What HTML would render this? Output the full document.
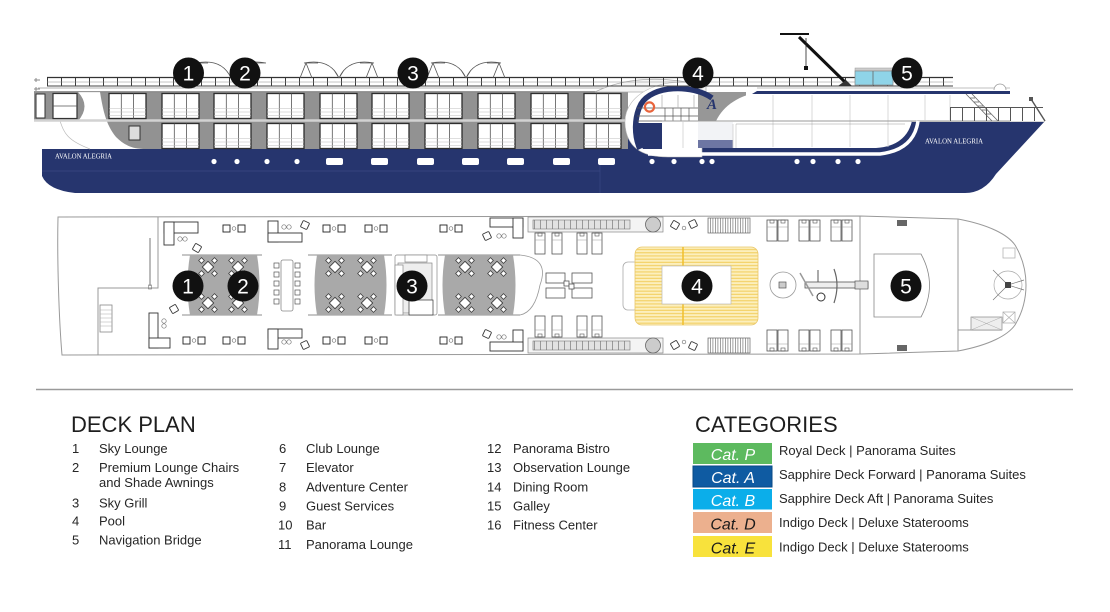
<!DOCTYPE html>
<html><head><meta charset="utf-8"><style>
html,body{margin:0;padding:0;background:#fff;}
svg{display:block;}
</style></head><body>
<svg width="1110" height="612" viewBox="0 0 1110 612" xmlns="http://www.w3.org/2000/svg" font-family="'Liberation Sans', sans-serif">
<defs>
<g id="bay">
<rect x="0" y="0" width="37" height="25" fill="#fff" stroke="#2e2e2e" stroke-width="1.3"/>
<line x1="12.3" y1="0" x2="12.3" y2="25" stroke="#555" stroke-width=".8"/>
<line x1="24.6" y1="0" x2="24.6" y2="25" stroke="#555" stroke-width=".8"/>
<g stroke="#bdbdbd" stroke-width=".6"><line x1="0" y1="15" x2="37" y2="15"/><line x1="0" y1="18.5" x2="37" y2="18.5"/><line x1="0" y1="22" x2="37" y2="22"/></g>
</g>
<pattern id="rail" x="47" y="77" width="14" height="10" patternUnits="userSpaceOnUse"><rect x="0" y="0" width="1" height="10" fill="#3a3a3a"/></pattern>
<pattern id="brail" x="950" y="107" width="12" height="14" patternUnits="userSpaceOnUse"><rect x="0" y="0" width="1" height="14" fill="#555"/></pattern>
<pattern id="poolp" x="0" y="247" width="4" height="3.2" patternUnits="userSpaceOnUse"><rect width="4" height="3.2" fill="#fcefbd"/><rect y="2" width="4" height="1.1" fill="#f3cf62"/></pattern>
<pattern id="vstr" x="0" y="0" width="2.5" height="4" patternUnits="userSpaceOnUse"><rect width="2.5" height="4" fill="#fff"/><rect width=".8" height="4" fill="#888"/></pattern>
<pattern id="dash" x="0" y="0" width="6" height="4" patternUnits="userSpaceOnUse"><rect width="6" height="4" fill="#e2e2e2"/><rect width="1" height="4" fill="#999"/></pattern>
<g id="tc">
<rect x="-4" y="-4" width="8" height="8" transform="rotate(45)" fill="#fff" stroke="#333" stroke-width=".8"/>
<rect x="-2" y="-2" width="4" height="4" transform="translate(-6.5,-6.5) rotate(45)" fill="#fff" stroke="#333" stroke-width=".7"/>
<rect x="-2" y="-2" width="4" height="4" transform="translate(6.5,-6.5) rotate(45)" fill="#fff" stroke="#333" stroke-width=".7"/>
<rect x="-2" y="-2" width="4" height="4" transform="translate(-6.5,6.5) rotate(45)" fill="#fff" stroke="#333" stroke-width=".7"/>
<rect x="-2" y="-2" width="4" height="4" transform="translate(6.5,6.5) rotate(45)" fill="#fff" stroke="#333" stroke-width=".7"/>
</g>
<g id="sos">
<rect x="0" y="0" width="7" height="7" fill="#fff" stroke="#222" stroke-width=".9"/>
<circle cx="11" cy="3.5" r="1.8" fill="none" stroke="#777" stroke-width=".7"/>
<rect x="15" y="0" width="7" height="7" fill="#fff" stroke="#222" stroke-width=".9"/>
</g>
<rect id="ch" x="-3.5" y="-3.5" width="7" height="7" rx="1" fill="#fff" stroke="#333" stroke-width=".9"/>
<g id="oo"><circle cx="0" cy="0" r="2.2" fill="none" stroke="#777" stroke-width=".7"/><circle cx="5" cy="0" r="2.2" fill="none" stroke="#777" stroke-width=".7"/></g>
<g id="lg"><rect x="0" y="0" width="10" height="21" fill="#fff" stroke="#555" stroke-width=".8"/><rect x="3" y="0" width="4" height="3" fill="none" stroke="#555" stroke-width=".6"/><line x1="0" y1="7" x2="10" y2="7" stroke="#999" stroke-width=".5"/></g>
<g id="lgb"><rect x="0" y="0" width="10" height="21" fill="#fff" stroke="#555" stroke-width=".8"/><rect x="3" y="18" width="4" height="3" fill="none" stroke="#555" stroke-width=".6"/><line x1="0" y1="14" x2="10" y2="14" stroke="#999" stroke-width=".5"/></g>
<g id="mk"><circle cx="0" cy="0" r="15.5" fill="#111"/></g>
</defs>

<rect width="1110" height="612" fill="#fff"/>

<!-- ================= SIDE VIEW ================= -->
<path d="M42,149 H626 V121 H1045 L996,174 Q984,193 965,193 H75 Q48,190 42,176 Z" fill="#26356e"/>
<line x1="42" y1="171" x2="600" y2="171" stroke="#3b4a86" stroke-width=".8"/>
<line x1="600" y1="164" x2="600" y2="193" stroke="#3b4a86" stroke-width=".6"/>
<line x1="912" y1="121.5" x2="1045" y2="121.5" stroke="#d8d8d8" stroke-width="1"/>

<rect x="34" y="92" width="594" height="28" fill="#929292"/>
<rect x="100" y="121" width="528" height="28" fill="#929292"/>
<path d="M78,92 H100 C103,110 106,125 116,137 C124,145 132,149 146,149 H42 V121 H78 Q91,106 78,92 Z" fill="#fff"/>
<path d="M60,121 C64,132 66,140 90,149" fill="none" stroke="#bbb" stroke-width=".7"/>
<line x1="34" y1="120.5" x2="628" y2="120.5" stroke="#d2d2d2" stroke-width="2.5"/>
<rect x="36" y="94" width="9" height="24" fill="#fff" stroke="#333" stroke-width="1"/>
<rect x="53" y="93.5" width="24" height="25" fill="#fff" stroke="#333" stroke-width="1.2"/>
<line x1="53" y1="106" x2="77" y2="106" stroke="#555" stroke-width=".8"/>
<rect x="129" y="126" width="11" height="14" fill="#ddd" stroke="#333" stroke-width="1"/>
<use href="#bay" x="109" y="93.5"/><use href="#bay" x="162" y="93.5"/><use href="#bay" x="214" y="93.5"/><use href="#bay" x="267" y="93.5"/><use href="#bay" x="320" y="93.5"/><use href="#bay" x="372" y="93.5"/><use href="#bay" x="425" y="93.5"/><use href="#bay" x="478" y="93.5"/><use href="#bay" x="531" y="93.5"/><use href="#bay" x="584" y="93.5"/>
<use href="#bay" x="162" y="123.5"/><use href="#bay" x="214" y="123.5"/><use href="#bay" x="267" y="123.5"/><use href="#bay" x="320" y="123.5"/><use href="#bay" x="372" y="123.5"/><use href="#bay" x="425" y="123.5"/><use href="#bay" x="478" y="123.5"/><use href="#bay" x="531" y="123.5"/><use href="#bay" x="584" y="123.5"/>

<rect x="38" y="86" width="592" height="6" fill="#fff"/>
<line x1="38" y1="88" x2="630" y2="88" stroke="#999" stroke-width=".8"/>
<line x1="34" y1="91.7" x2="630" y2="91.7" stroke="#777" stroke-width=".8"/>

<path d="M595,92 Q640,70 706,86 L706,92 Z" fill="#f5f5f5" stroke="#aaa" stroke-width=".7"/>

<path d="M706,86 C666,74 624,92 625,123 C626,146 640,157 668,157 L702,157 L702,86 Z" fill="#fff" stroke="#bbb" stroke-width=".6"/>
<rect x="698" y="92" width="48" height="29" fill="#979797"/>
<path d="M712,98 C692,84 652,85 641,104 C634,117 634,136 640,149" fill="none" stroke="#26356e" stroke-width="5.5"/>
<path d="M637,123 H662 V149 H643 Q637,140 637,123 Z" fill="#26356e"/>
<g stroke="#555" stroke-width=".7" fill="none">
<line x1="637" y1="108" x2="698" y2="108"/><line x1="637" y1="116" x2="698" y2="116"/><line x1="637" y1="121" x2="698" y2="121"/>
<line x1="665" y1="108" x2="665" y2="121"/><line x1="673" y1="108" x2="673" y2="121"/><line x1="681" y1="108" x2="681" y2="121"/><line x1="689" y1="108" x2="689" y2="121"/>
<line x1="662" y1="95" x2="662" y2="108" stroke="#aaa"/><line x1="678" y1="95" x2="678" y2="108" stroke="#aaa"/><line x1="694" y1="95" x2="694" y2="108" stroke="#aaa"/>
</g>
<circle cx="649.5" cy="107" r="4.6" fill="none" stroke="#e8643c" stroke-width="2.2"/>
<text x="707" y="109" font-family="'Liberation Serif', serif" font-style="italic" font-weight="bold" font-size="15" fill="#26356e">A</text>

<path d="M716,121 C724,104 742,93 770,90 H1010 V121 Z" fill="#fff"/>
<path d="M662,121 H912 Q906,146 876,148 H662 Z" fill="#fff"/>
<rect x="698" y="122" width="35" height="26" fill="#f2f3f6"/>
<rect x="698" y="140" width="35" height="8" fill="#6d76a3"/>
<g stroke="#cfcfcf" stroke-width=".8">
<line x1="773" y1="95" x2="773" y2="147"/><line x1="812" y1="95" x2="812" y2="147"/><line x1="850" y1="95" x2="850" y2="147"/><line x1="888" y1="95" x2="888" y2="147"/><line x1="925" y1="95" x2="925" y2="120"/><line x1="950" y1="95" x2="950" y2="120"/>
<line x1="683" y1="122" x2="683" y2="148"/><line x1="733" y1="124" x2="733" y2="148"/><line x1="736" y1="124" x2="736" y2="148"/>
</g>
<line x1="662" y1="121" x2="1010" y2="121" stroke="#9a9a9a" stroke-width=".9"/>
<line x1="736" y1="124" x2="905" y2="124" stroke="#9a9a9a" stroke-width=".6"/>
<rect x="757" y="86" width="253" height="5" fill="#fff"/>
<line x1="757" y1="88" x2="1010" y2="88" stroke="#aaa" stroke-width=".8"/>
<path d="M757,91 H1010 V94 H752 Z" fill="#26356e"/>
<path d="M648,154 H880 Q914,150 918,121" fill="none" stroke="#fff" stroke-width="3.5"/>

<g fill="#fff">
<circle cx="214" cy="161.5" r="2.6"/><circle cx="237" cy="161.5" r="2.6"/><circle cx="267" cy="161.5" r="2.6"/><circle cx="297" cy="161.5" r="2.6"/>
<rect x="326" y="158" width="17" height="7" rx="2"/><rect x="371" y="158" width="17" height="7" rx="2"/><rect x="417" y="158" width="17" height="7" rx="2"/><rect x="462" y="158" width="17" height="7" rx="2"/><rect x="507" y="158" width="17" height="7" rx="2"/><rect x="553" y="158" width="17" height="7" rx="2"/><rect x="598" y="158" width="17" height="7" rx="2"/>
<circle cx="652" cy="161.5" r="2.6"/><circle cx="674" cy="161.5" r="2.6"/><circle cx="702" cy="161.5" r="2.6"/><circle cx="712" cy="161.5" r="2.6"/>
<circle cx="797" cy="161.5" r="2.6"/><circle cx="813" cy="161.5" r="2.6"/><circle cx="838" cy="161.5" r="2.6"/><circle cx="858" cy="161.5" r="2.6"/>
</g>

<rect x="47" y="77" width="906" height="9" fill="url(#rail)"/>
<line x1="47" y1="77.5" x2="953" y2="77.5" stroke="#333" stroke-width="1.2"/>
<line x1="47" y1="82" x2="953" y2="82" stroke="#888" stroke-width=".5"/>
<line x1="47" y1="86" x2="953" y2="86" stroke="#444" stroke-width=".9"/>
<path d="M34,80 h6 M36,78 v4 M34,89 h6 M36,87 v4" stroke="#888" stroke-width="1"/>

<g stroke="#555" stroke-width=".8" fill="none">
<path d="M196,63 Q222,58 231,78 M266,63 Q240,58 231,78 M196,63 H208 M254,63 H266"/>
<path d="M304,63 H318 M360,63 H374 M304,63 Q330,58 339,78 M374,63 Q348,58 339,78 M306,63 L300,78 M306,63 L312,78 M372,63 L366,78 M372,63 L378,78 M339,78 L334,70 M339,78 L344,70"/>
<path d="M431,63 H445 M487,63 H501 M431,63 Q457,58 466,78 M501,63 Q475,58 466,78 M433,63 L427,78 M433,63 L439,78 M499,63 L493,78 M499,63 L505,78 M466,78 L461,70 M466,78 L471,70"/>
</g>

<line x1="847" y1="84" x2="799" y2="37" stroke="#111" stroke-width="3"/>
<line x1="780" y1="34" x2="809" y2="34" stroke="#111" stroke-width="2"/>
<line x1="806" y1="38" x2="806" y2="67" stroke="#222" stroke-width=".8"/>
<rect x="804" y="66" width="4" height="4" fill="#111"/>
<path d="M838,86 L846,80 L852,86 Z" fill="#333"/>
<rect x="855" y="68" width="38" height="3" fill="#ccc" stroke="#999" stroke-width=".5"/>
<rect x="855" y="71" width="38" height="14" fill="#8fd4e8" stroke="#888" stroke-width=".7"/>
<line x1="873" y1="71" x2="873" y2="85" stroke="#666" stroke-width=".8"/>

<path d="M994,90 A6,6 0 0 1 1006,90" fill="#fff" stroke="#999" stroke-width=".8"/>
<g stroke="#666" stroke-width=".8"><line x1="966" y1="94" x2="992" y2="121"/><line x1="972" y1="94" x2="998" y2="121"/>
<line x1="970" y1="98" x2="975" y2="98"/><line x1="974" y1="102" x2="979" y2="102"/><line x1="978" y1="106" x2="983" y2="106"/><line x1="982" y1="110" x2="987" y2="110"/><line x1="986" y1="114" x2="991" y2="114"/></g>
<rect x="950" y="107" width="93" height="14" fill="url(#brail)"/>
<line x1="950" y1="107.5" x2="1043" y2="107.5" stroke="#555" stroke-width="1"/>
<line x1="1031" y1="99" x2="1045" y2="121" stroke="#555" stroke-width="1.4"/>
<rect x="1029" y="97" width="4" height="4" fill="#555"/>

<text x="55" y="158.5" font-family="'Liberation Serif', serif" font-size="7" fill="#fff" textLength="57" lengthAdjust="spacingAndGlyphs">AVALON ALEGRIA</text>
<text x="925" y="143.5" font-family="'Liberation Serif', serif" font-size="7" fill="#fff" textLength="58" lengthAdjust="spacingAndGlyphs">AVALON ALEGRIA</text>

<g font-size="21" fill="#fff" text-anchor="middle">
<use href="#mk" x="188.5" y="73"/><text x="188.5" y="80.5">1</text>
<use href="#mk" x="245" y="73"/><text x="245" y="80.5">2</text>
<use href="#mk" x="413" y="73"/><text x="413" y="80.5">3</text>
<use href="#mk" x="698" y="73"/><text x="698" y="80.5">4</text>
<use href="#mk" x="907" y="73"/><text x="907" y="80.5">5</text>
</g>

<!-- ================= DECK PLAN ================= -->
<path d="M58,217 L860,216 L958,219 C990,225 1008,235 1015,245 C1024,260 1026,275 1026,285 C1026,295 1024,310 1015,325 C1008,335 990,345 958,351 L860,354 L62,355 C59,320 57,260 58,217 Z" fill="#fff" stroke="#999" stroke-width="1"/>
<g stroke="#999" stroke-width="1" fill="none">
<path d="M158,217 V288 H98 V355"/>
<line x1="860" y1="216" x2="860" y2="354"/>
<line x1="958" y1="219" x2="958" y2="351"/>
<line x1="958" y1="330" x2="1002" y2="330"/>
</g>
<line x1="150" y1="238" x2="150" y2="286" stroke="#777" stroke-width="1"/>
<rect x="148.5" y="285" width="3" height="4" fill="none" stroke="#777" stroke-width=".6"/>
<rect x="100" y="305" width="12" height="27" fill="#fff" stroke="#888" stroke-width=".8"/>
<g stroke="#aaa" stroke-width=".5"><line x1="100" y1="310" x2="112" y2="310"/><line x1="100" y1="314" x2="112" y2="314"/><line x1="100" y1="318" x2="112" y2="318"/><line x1="100" y1="322" x2="112" y2="322"/><line x1="100" y1="326" x2="112" y2="326"/></g>

<g stroke="#666" stroke-width=".7">
<line x1="182" y1="255" x2="262" y2="255"/><line x1="182" y1="315" x2="262" y2="315"/>
<line x1="308" y1="255" x2="392" y2="255"/><line x1="308" y1="315" x2="392" y2="315"/>
<line x1="438" y1="255" x2="520" y2="255"/><line x1="438" y1="315" x2="520" y2="315"/>
</g>
<path d="M520,255 Q550,258 540,285 Q535,312 520,315" fill="none" stroke="#999" stroke-width=".8"/>

<path d="M190,255 H257 Q262,285 257,315 H190 Q185,285 190,255 Z" fill="#a9a9a9"/>
<path d="M317,255 H384 Q389,285 384,315 H317 Q312,285 317,255 Z" fill="#a9a9a9"/>
<path d="M445,255 H513 Q518,285 513,315 H445 Q440,285 445,255 Z" fill="#a9a9a9"/>
<use href="#tc" x="208" y="267"/><use href="#tc" x="238" y="267"/><use href="#tc" x="208" y="303"/><use href="#tc" x="238" y="303"/>
<use href="#tc" x="335" y="267"/><use href="#tc" x="367" y="267"/><use href="#tc" x="335" y="303"/><use href="#tc" x="367" y="303"/>
<use href="#tc" x="465" y="267"/><use href="#tc" x="497" y="267"/><use href="#tc" x="465" y="303"/><use href="#tc" x="497" y="303"/>

<rect x="281" y="260" width="12" height="51" rx="2" fill="#fff" stroke="#888" stroke-width=".8"/>
<g fill="#fff" stroke="#555" stroke-width=".7">
<rect x="274" y="263" width="5" height="5"/><rect x="274" y="272" width="5" height="5"/><rect x="274" y="281" width="5" height="5"/><rect x="274" y="290" width="5" height="5"/><rect x="274" y="299" width="5" height="5"/>
<rect x="295" y="263" width="5" height="5"/><rect x="295" y="272" width="5" height="5"/><rect x="295" y="281" width="5" height="5"/><rect x="295" y="290" width="5" height="5"/><rect x="295" y="299" width="5" height="5"/>
</g>
<g fill="#fff" stroke="#888" stroke-width=".7">
<rect x="395" y="255" width="42" height="60" rx="2"/>
<rect x="405" y="255" width="22" height="7"/>
<rect x="398" y="263" width="34" height="50" fill="#eee"/>
<rect x="395" y="265" width="8" height="50"/>
<rect x="409" y="300" width="24" height="15" stroke="#333"/>
</g>

<rect x="164" y="222" width="34" height="11" fill="#fff" stroke="#333" stroke-width=".9"/>
<rect x="164" y="222" width="10" height="23" fill="#fff" stroke="#333" stroke-width=".9"/>
<use href="#oo" x="180" y="239"/>
<use href="#ch" transform="translate(197,248) rotate(30)"/>
<use href="#sos" x="223" y="225"/>
<rect x="268" y="221" width="10" height="21" fill="#fff" stroke="#333" stroke-width=".9"/>
<rect x="268" y="233" width="34" height="9" fill="#fff" stroke="#333" stroke-width=".9"/>
<use href="#oo" x="284" y="227"/>
<use href="#ch" transform="translate(305,225) rotate(25)"/>
<use href="#sos" x="323" y="225"/><use href="#sos" x="365" y="225"/><use href="#sos" x="440" y="225"/>
<use href="#ch" transform="translate(487,236) rotate(-25)"/>
<use href="#oo" x="499" y="236"/>
<rect x="490" y="218" width="33" height="9" fill="#fff" stroke="#333" stroke-width=".9"/>
<rect x="513" y="218" width="10" height="20" fill="#fff" stroke="#333" stroke-width=".9"/>
<rect x="149" y="313" width="9" height="35" fill="#fff" stroke="#333" stroke-width=".9"/>
<rect x="149" y="338" width="21" height="10" fill="#fff" stroke="#333" stroke-width=".9"/>
<circle cx="164" cy="321" r="2.2" fill="none" stroke="#777" stroke-width=".7"/><circle cx="164" cy="326" r="2.2" fill="none" stroke="#777" stroke-width=".7"/>
<use href="#ch" transform="translate(174,309) rotate(-30)"/>
<use href="#sos" x="183" y="337"/><use href="#sos" x="223" y="337"/><use href="#sos" x="323" y="337"/><use href="#sos" x="365" y="337"/><use href="#sos" x="440" y="337"/>
<rect x="268" y="329" width="34" height="9" fill="#fff" stroke="#333" stroke-width=".9"/>
<rect x="268" y="329" width="10" height="20" fill="#fff" stroke="#333" stroke-width=".9"/>
<use href="#oo" x="284" y="342"/>
<use href="#ch" transform="translate(305,345) rotate(-25)"/>
<use href="#ch" transform="translate(487,334) rotate(25)"/>
<use href="#oo" x="499" y="337"/>
<rect x="513" y="330" width="10" height="20" fill="#fff" stroke="#333" stroke-width=".9"/>
<rect x="490" y="342" width="33" height="9" fill="#fff" stroke="#333" stroke-width=".9"/>

<rect x="528" y="217" width="135" height="15" fill="#f4f4f4" stroke="#888" stroke-width=".7"/>
<rect x="533" y="220" width="97" height="9" fill="url(#dash)" stroke="#777" stroke-width=".6"/>
<circle cx="653" cy="224.5" r="7.5" fill="#ccc" stroke="#666" stroke-width=".8"/>
<rect x="528" y="338" width="135" height="15" fill="#f4f4f4" stroke="#888" stroke-width=".7"/>
<rect x="533" y="341" width="97" height="9" fill="url(#dash)" stroke="#777" stroke-width=".6"/>
<circle cx="653" cy="345.5" r="7.5" fill="#ccc" stroke="#666" stroke-width=".8"/>
<use href="#lg" x="535" y="233"/><use href="#lg" x="552" y="233"/><use href="#lg" x="577" y="233"/><use href="#lg" x="592" y="233"/>
<use href="#lgb" x="535" y="316"/><use href="#lgb" x="552" y="316"/><use href="#lgb" x="577" y="316"/><use href="#lgb" x="592" y="316"/>
<g fill="#fff" stroke="#555" stroke-width=".8">
<rect x="546" y="273" width="19" height="10"/><rect x="546" y="288" width="19" height="10"/><rect x="572" y="273" width="20" height="10"/><rect x="572" y="288" width="20" height="10"/>
<rect x="564" y="281" width="5" height="5"/><rect x="569" y="284" width="5" height="5"/>
</g>
<use href="#ch" transform="translate(675,225) rotate(30)"/><circle cx="684" cy="228" r="1.8" fill="none" stroke="#777" stroke-width=".7"/><use href="#ch" transform="translate(693,224) rotate(-25)"/>
<use href="#ch" transform="translate(675,345) rotate(-30)"/><circle cx="684" cy="342" r="1.8" fill="none" stroke="#777" stroke-width=".7"/><use href="#ch" transform="translate(693,346) rotate(25)"/>
<rect x="708" y="218" width="42" height="15" fill="url(#vstr)" stroke="#666" stroke-width=".7"/>
<rect x="708" y="338" width="42" height="15" fill="url(#vstr)" stroke="#666" stroke-width=".7"/>
<use href="#lg" x="767" y="220"/><use href="#lg" x="778" y="220"/><use href="#lg" x="799" y="220"/><use href="#lg" x="810" y="220"/><use href="#lg" x="831" y="220"/><use href="#lg" x="842" y="220"/>
<use href="#lgb" x="767" y="330"/><use href="#lgb" x="778" y="330"/><use href="#lgb" x="799" y="330"/><use href="#lgb" x="810" y="330"/><use href="#lgb" x="831" y="330"/><use href="#lgb" x="842" y="330"/>

<rect x="623" y="262" width="16" height="48" rx="5" fill="#fff" stroke="#aaa" stroke-width=".8"/>
<rect x="635" y="247" width="123" height="78" rx="7" fill="url(#poolp)" stroke="#e9c76a" stroke-width=".8"/>
<line x1="683" y1="247" x2="683" y2="325" stroke="#f0bf2c" stroke-width="1.5"/>
<rect x="662" y="266" width="69" height="38" fill="#fff" stroke="#bbb" stroke-width=".7"/>

<circle cx="783" cy="285" r="13" fill="none" stroke="#999" stroke-width=".8"/>
<rect x="779" y="282" width="7" height="6" fill="#ccc" stroke="#555" stroke-width=".7"/>
<rect x="805" y="282" width="63" height="6" fill="#eee" stroke="#555" stroke-width=".8"/>
<line x1="800" y1="273" x2="813" y2="296" stroke="#999" stroke-width="1.5"/>
<line x1="818" y1="270" x2="818" y2="282" stroke="#555" stroke-width="1"/>
<path d="M834,269 Q840,285 834,303" fill="none" stroke="#666" stroke-width="1.2"/>
<circle cx="821" cy="297" r="4" fill="#fff" stroke="#333" stroke-width="1"/>
<rect x="855" y="281" width="13" height="8" fill="#ddd" stroke="#555" stroke-width=".7"/>

<path d="M874,254 H921 Q938,285 921,317 H874 Z" fill="#fff" stroke="#888" stroke-width=".8"/>
<rect x="897" y="220" width="10" height="6" fill="#666"/>
<rect x="897" y="345" width="10" height="6" fill="#666"/>
<rect x="1003" y="248" width="12" height="10" fill="#fff" stroke="#aaa" stroke-width=".7"/>
<rect x="1003" y="312" width="12" height="11" fill="#fff" stroke="#aaa" stroke-width=".7"/>
<path d="M1003,312 L1015,323 M1015,312 L1003,323" stroke="#aaa" stroke-width=".6"/>
<rect x="971" y="317" width="31" height="13" fill="#eee" stroke="#888" stroke-width=".7"/>
<path d="M971,317 L1002,330 M1002,317 L971,330" stroke="#aaa" stroke-width=".5"/>
<circle cx="1008" cy="285" r="14" fill="none" stroke="#aaa" stroke-width=".7"/>
<path d="M993,270 L1008,285 L993,300 M1008,285 L1024,280 M1008,285 L1024,290" fill="none" stroke="#777" stroke-width=".7"/>
<rect x="1005" y="282" width="6" height="6" fill="#444"/>

<g font-size="21" fill="#fff" text-anchor="middle">
<use href="#mk" x="188" y="286"/><text x="188" y="293.5">1</text>
<use href="#mk" x="243" y="286"/><text x="243" y="293.5">2</text>
<use href="#mk" x="412" y="286"/><text x="412" y="293.5">3</text>
<use href="#mk" x="697" y="286"/><text x="697" y="293.5">4</text>
<use href="#mk" x="906" y="286"/><text x="906" y="293.5">5</text>
</g>

<!-- ================= LEGEND ================= -->
<line x1="36" y1="389.5" x2="1073" y2="389.5" stroke="#9a9a9a" stroke-width="1.5"/>

<text x="71" y="432" font-size="22" fill="#1e1e1e">DECK PLAN</text>
<g font-size="13" fill="#262626">
<text x="72" y="453">1</text><text x="99" y="453">Sky Lounge</text>
<text x="72" y="472">2</text><text x="99" y="472">Premium Lounge Chairs</text>
<text x="99" y="487">and Shade Awnings</text>
<text x="72" y="507.5">3</text><text x="99" y="507.5">Sky Grill</text>
<text x="72" y="525.5">4</text><text x="99" y="525.5">Pool</text>
<text x="72" y="544.5">5</text><text x="99" y="544.5">Navigation Bridge</text>

<text x="279" y="453">6</text><text x="306" y="453">Club Lounge</text>
<text x="279" y="472">7</text><text x="306" y="472">Elevator</text>
<text x="279" y="491.5">8</text><text x="306" y="491.5">Adventure Center</text>
<text x="279" y="510.5">9</text><text x="306" y="510.5">Guest Services</text>
<text x="278" y="529.5">10</text><text x="306" y="529.5">Bar</text>
<text x="278" y="549">11</text><text x="306" y="549">Panorama Lounge</text>

<text x="487" y="453">12</text><text x="513" y="453">Panorama Bistro</text>
<text x="487" y="472">13</text><text x="513" y="472">Observation Lounge</text>
<text x="487" y="491.5">14</text><text x="513" y="491.5">Dining Room</text>
<text x="487" y="510.5">15</text><text x="513" y="510.5">Galley</text>
<text x="487" y="529.5">16</text><text x="513" y="529.5">Fitness Center</text>
</g>

<text x="695" y="432" font-size="22" fill="#1e1e1e">CATEGORIES</text>
<rect x="693" y="443" width="79" height="21" fill="#5dba5f"/>
<rect x="693" y="466" width="79" height="21" fill="#0f5ba2" stroke="#0a4a86" stroke-width="1"/>
<rect x="693" y="489" width="79" height="20.5" fill="#0baeea"/>
<rect x="693" y="512" width="79" height="21" fill="#ecb08e"/>
<rect x="693" y="536" width="79" height="21" fill="#f8e23c"/>
<g font-size="16" font-style="italic" text-anchor="middle">
<text x="733" y="460" fill="#fff">Cat. P</text>
<text x="733" y="483" fill="#fff">Cat. A</text>
<text x="733" y="506" fill="#fff">Cat. B</text>
<text x="733" y="529.5" fill="#1a1a1a">Cat. D</text>
<text x="733" y="553.5" fill="#1a1a1a">Cat. E</text>
</g>
<g font-size="13" fill="#262626">
<text x="779" y="455">Royal Deck | Panorama Suites</text>
<text x="779" y="479">Sapphire Deck Forward | Panorama Suites</text>
<text x="779" y="503">Sapphire Deck Aft | Panorama Suites</text>
<text x="779" y="527">Indigo Deck | Deluxe Staterooms</text>
<text x="779" y="551.5">Indigo Deck | Deluxe Staterooms</text>
</g>
</svg>
</body></html>
